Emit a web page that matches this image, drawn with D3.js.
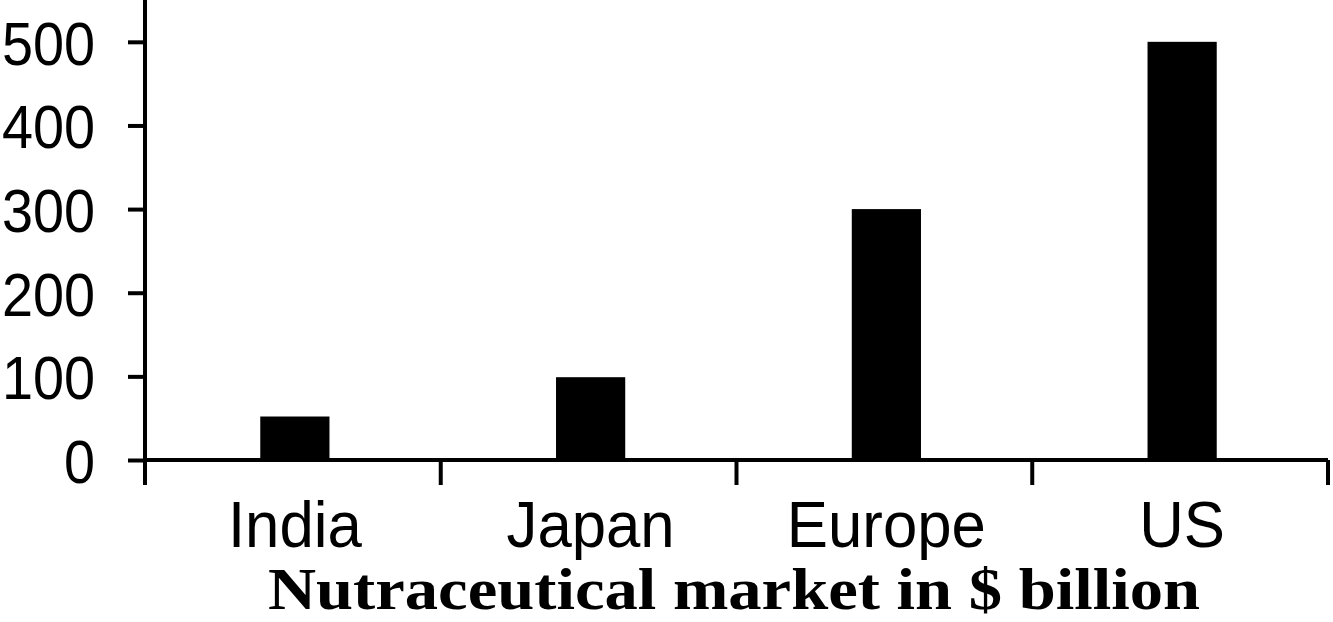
<!DOCTYPE html>
<html>
<head>
<meta charset="utf-8">
<script src="https://cdn.jsdelivr.net/npm/d3@7"></script>
<style>
  html, body { margin: 0; padding: 0; background: #fff; }
  svg { display: block; }
</style>
</head>
<body>
<div class="chart"></div>
<script>
// values
var categories = ["India", "Japan", "Europe", "US"];
var marketValues = [52, 99, 300, 500];
var yTicks = [0, 100, 200, 300, 400, 500];
var xTitle = "Nutraceutical market in $ billion";

var width = 1333, height = 622;
var plot = { left: 145, right: 1328, top: 0, bottom: 460 };

var svg = d3.select(".chart")
	.append("svg")
	.attr("width", width)
	.attr("height", height);

var x = d3.scaleBand()
	.domain(categories)
	.range([plot.left, plot.right])
	.padding(0);

var y = d3.scaleLinear()
	.domain([0, 550])
	.range([plot.bottom, plot.top]);

var barWidth = x.bandwidth() * 0.234;

// bars
svg.append("g")
	.selectAll("rect")
	.data(categories)
	.enter()
	.append("rect")
		.attr("x", function(d){ return x(d) + (x.bandwidth() - barWidth) / 2 + 2; })
		.attr("y", function(d, i){ return y(marketValues[i]); })
		.attr("width", barWidth)
		.attr("height", function(d, i){ return y(0) - y(marketValues[i]); })
		.attr("fill", "#000");

// y axis
var squeezeY = 0.9;
var yAxis = svg.append("g")
	.attr("transform", "translate(" + plot.left + ",0)")
	.call(d3.axisLeft(y).tickValues(yTicks).tickSize(17).tickPadding(33).tickSizeOuter(0));

yAxis.select(".domain").remove();
yAxis.append("line")
	.attr("x1", 0).attr("x2", 0)
	.attr("y1", plot.top).attr("y2", plot.bottom + 25)
	.attr("stroke", "#000").attr("stroke-width", 4);
yAxis.selectAll(".tick line").attr("stroke", "#000").attr("stroke-width", 4);
yAxis.selectAll(".tick text")
	.attr("fill", "#000")
	.attr("x", -50 / squeezeY)
	.attr("dy", "0.36em")
	.attr("transform", "scale(" + squeezeY + ",1)")
	.style("font-family", "'Liberation Sans', Arial, sans-serif")
	.style("font-size", "62px");

// x axis
var xAxis = svg.append("g")
	.attr("transform", "translate(0," + plot.bottom + ")");

xAxis.append("line")
	.attr("x1", plot.left).attr("x2", plot.right)
	.attr("y1", 0).attr("y2", 0)
	.attr("stroke", "#000").attr("stroke-width", 4);

var bounds = categories.map(function(d){ return x(d); }).concat([plot.right]);
xAxis.selectAll("line.bound")
	.data(bounds.slice(1))
	.enter()
	.append("line")
		.attr("class", "bound")
		.attr("x1", function(d){ return d; })
		.attr("x2", function(d){ return d; })
		.attr("y1", 0).attr("y2", 25)
		.attr("stroke", "#000").attr("stroke-width", 4);

var squeezeX = 0.95;
xAxis.selectAll("text")
	.data(categories)
	.enter()
	.append("text")
		.attr("transform", "scale(" + squeezeX + ",1)")
		.attr("x", function(d){ return (x(d) + x.bandwidth() / 2 + 2) / squeezeX; })
		.attr("y", 87)
		.attr("text-anchor", "middle")
		.style("font-family", "'Liberation Sans', Arial, sans-serif")
		.style("font-size", "65px")
		.text(function(d){ return d; });

// axis title
svg.append("text")
	.attr("x", 734)
	.attr("y", 609)
	.attr("text-anchor", "middle")
	.attr("textLength", 932)
	.attr("lengthAdjust", "spacingAndGlyphs")
	.style("font-family", "'Liberation Serif', 'Times New Roman', serif")
	.style("font-weight", "bold")
	.style("font-size", "60px")
	.text(xTitle);
</script>
</body>
</html>
